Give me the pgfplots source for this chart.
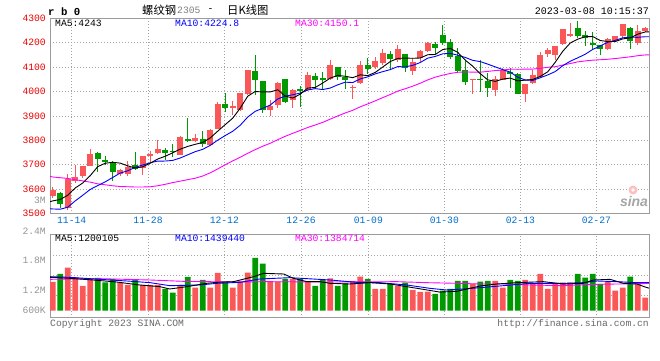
\documentclass[border=0pt]{standalone}
\usepackage{pgfplots}
\pgfplotsset{compat=1.18}
\usepackage{pgfplotstable}
\usepackage{fontspec}
\newfontfamily\mono{Liberation Mono}
\newfontfamily\cjk{Noto Sans CJK SC}
\newfontfamily\sans{Liberation Sans}
\definecolor{cred}{RGB}{250,88,88}
\definecolor{cgreen}{RGB}{0,153,0}
\definecolor{pricered}{RGB}{235,0,0}
\definecolor{datecol}{RGB}{0,110,205}
\definecolor{framegray}{RGB}{155,155,155}
\definecolor{gridgray}{RGB}{165,165,165}
\definecolor{lblgray}{RGB}{150,150,150}
\definecolor{txtgray}{RGB}{105,105,105}
\definecolor{mablue}{RGB}{0,0,255}
\definecolor{mamag}{RGB}{255,0,255}
\newcommand{\lbl}{\mono\fontsize{9.7}{10}\selectfont}

\pgfplotstableread{
x o h l c v
0 3572 3608 3565 3595 1.464
1 3583 3588 3525 3541 1.872
2 3525 3664 3515 3642 2.195
3 3633 3698 3626 3651 1.702
4 3653 3697 3644 3697 1.260
5 3697 3766 3694 3746 1.617
6 3750 3754 3670 3725 1.668
7 3720 3737 3698 3713 1.447
8 3713 3716 3633 3670 1.617
9 3664 3681 3653 3680 1.447
10 3663 3714 3656 3690 1.311
11 3698 3751 3677 3681 1.566
12 3687 3737 3658 3737 1.311
13 3735 3758 3710 3744 1.311
14 3748 3803 3746 3766 1.311
15 3762 3769 3719 3747 1.107
16 3758 3786 3731 3751 0.920
17 3741 3819 3741 3812 1.311
18 3805 3891 3792 3800 1.719
19 3798 3827 3792 3809 1.175
20 3805 3839 3773 3786 1.566
21 3782 3847 3778 3843 1.175
22 3847 3958 3845 3950 1.923
23 3950 3995 3915 3934 1.481
24 3935 3963 3904 3941 1.175
25 3925 3993 3920 3992 1.481
26 3988 4088 3984 4087 1.940
27 4083 4151 3985 4047 2.688
28 4043 4045 3911 3925 2.399
29 3925 3965 3901 3941 1.481
30 3945 4040 3934 4036 1.481
31 4051 4051 3952 3959 1.617
32 3965 4010 3931 4006 1.617
33 4010 4022 3938 4003 1.617
34 4006 4081 4002 4067 1.481
35 4063 4077 4013 4049 1.260
36 4056 4081 4009 4049 1.566
37 4053 4131 4049 4108 1.651
38 4100 4100 4049 4058 1.260
39 4060 4087 4009 4049 1.396
40 4015 4026 3970 4020 1.515
41 4033 4125 4030 4108 1.736
42 4108 4139 4071 4091 1.617
43 4101 4142 4094 4124 1.107
44 4117 4175 4108 4159 1.107
45 4152 4166 4087 4132 1.362
46 4131 4189 4121 4173 1.260
47 4152 4152 4081 4098 1.430
48 4085 4139 4067 4119 1.056
49 4138 4171 4121 4165 0.954
50 4165 4203 4162 4199 0.971
51 4196 4203 4155 4178 0.852
52 4230 4274 4189 4199 1.022
53 4203 4216 4135 4142 1.107
54 4146 4180 4074 4085 1.515
55 4090 4131 4026 4040 1.515
56 4047 4053 3992 4053 1.362
57 4053 4131 3999 4047 1.481
58 4043 4074 3979 4015 1.515
59 4006 4063 3982 4053 1.515
60 4049 4097 4046 4087 1.175
61 4081 4098 4013 4074 1.566
62 4072 4074 3988 3990 1.515
63 3990 4030 3959 4030 1.566
64 4036 4090 4029 4067 1.362
65 4060 4162 4058 4148 1.872
66 4152 4180 4142 4170 1.107
67 4149 4186 4128 4185 1.396
68 4193 4258 4190 4255 1.430
69 4227 4281 4223 4236 1.430
70 4261 4291 4219 4227 1.872
71 4230 4246 4186 4220 1.685
72 4200 4243 4169 4189 1.872
73 4192 4192 4148 4173 1.362
74 4176 4219 4171 4216 1.481
75 4209 4228 4205 4226 1.022
76 4226 4277 4219 4275 1.175
77 4261 4264 4176 4209 1.736
78 4200 4273 4192 4250 1.430
79 4246 4266 4243 4261 0.665
}\pricedata

\pgfplotstableread{
x m5 m10 m30
-0.36 3549 3520 3653
0 3552 3519 3650
1 3558 3518 3647
2 3575 3526 3644
3 3605 3552 3639
4 3625.2 3575 3634
5 3655.4 3599 3629
6 3692.2 3615 3622
7 3706.4 3630 3618
8 3710.2 3648 3614
9 3706.8 3666 3611
10 3695.6 3675.5 3610
11 3686.8 3689.5 3609
12 3691.6 3699 3609
13 3706.4 3708.3 3610
14 3723.6 3715.2 3614
15 3735 3715.3 3620
16 3749 3717.9 3627
17 3764 3727.8 3633
18 3775.2 3740.8 3639
19 3783.8 3753.7 3645
20 3791.6 3763.3 3654
21 3810 3779.5 3667
22 3837.6 3800.8 3683
23 3864.4 3819.8 3700
24 3890.8 3837.3 3716
25 3932 3861.8 3731
26 3980.8 3895.4 3747
27 4000.2 3918.9 3762
28 3998.4 3931.4 3776
29 3998.4 3944.6 3788.1
30 4007.2 3969.6 3802.8
31 3981.6 3981.2 3816.7
32 3973.4 3986.8 3828.9
33 3989 3993.7 3840.6
34 4014.2 4006.3 3852.9
35 4016.8 4012 3863.0
36 4034.8 4008.2 3873.8
37 4055.2 4014.3 3887.0
38 4066.2 4027.6 3899.9
39 4062.6 4038.4 3912.2
40 4056.8 4036.8 3923.2
41 4068.6 4051.7 3937.5
42 4065.2 4060.2 3949.3
43 4078.4 4072.3 3961.9
44 4100.4 4081.5 3975.0
45 4122.8 4089.8 3987.9
46 4135.8 4102.2 4001.9
47 4137.2 4101.2 4011.5
48 4136.2 4107.3 4022.1
49 4137.4 4118.9 4034.0
50 4150.8 4136.8 4047.7
51 4151.8 4143.8 4058.9
52 4172 4154.6 4067.2
53 4176.6 4156.4 4074.1
54 4160.6 4149 4078.9
55 4128.8 4139.8 4080.5
56 4103.8 4127.8 4079.4
57 4073.4 4122.7 4079.4
58 4048 4112.3 4082.4
59 4041.6 4101.1 4086.1
60 4051 4089.9 4087.8
61 4055.2 4079.5 4091.7
62 4043.8 4058.6 4091.1
63 4046.8 4047.4 4092.0
64 4049.6 4045.6 4092.0
65 4061.8 4056.4 4095.3
66 4081 4068.1 4099.4
67 4120 4081.9 4101.9
68 4165 4105.9 4108.5
69 4198.8 4124.2 4114.7
70 4214.6 4138.2 4121.6
71 4224.6 4152.8 4125.4
72 4225.4 4172.7 4128.6
73 4209 4186.7 4130.3
74 4205 4201.9 4132.2
75 4204.8 4209.7 4135.3
76 4215.8 4220.2 4138.7
77 4219.8 4222.6 4142.4
78 4235.2 4222.1 4146.8
79 4244.2 4224.6 4150.0
79.5 4244.2 4224.6 4150.0
}\madata

\pgfplotsset{
  kbase/.style={
    scale only axis, width=599pt,
    xmin=-0.36, xmax=79.5,
    xtick={2.53,12.71,22.88,33.11,42.08,52.21,62.35,72.48},
    major tick length=0pt,
    axis line style={draw=framegray, line width=1pt},
    grid=major,
    grid style={draw=gridgray, line width=0.7pt, dash pattern=on 0.8pt off 2.2pt},
    tick label style={font=\lbl},
    clip=true,
  },
  upfilter/.style={restrict expr to domain={\thisrow{c}-\thisrow{o}}{0:5000}},
  downfilter/.style={restrict expr to domain={\thisrow{c}-\thisrow{o}}{-5000:-0.001}},
}

\begin{document}
\begin{tikzpicture}[x=1pt,y=1pt]
\useasboundingbox (0,0) rectangle (660,360);
\fill[white] (0,0) rectangle (660,360);

% ---------- price panel ----------
\begin{axis}[kbase,
  at={(50pt,146.4pt)}, anchor=south west, height=195.3pt,
  ymin=3500, ymax=4300,
  xticklabels={11-14,11-28,12-12,12-26,01-09,01-30,02-13,02-27},
  ytick={3500,3600,3700,3800,3900,4000,4100,4200,4300},
  yticklabels={3500,3600,3700,3800,3900,4000,4100,4200,4300},
  xticklabel style={text=datecol, inner sep=0pt, yshift=-3pt},
  yticklabel style={text=pricered, inner sep=0pt, xshift=-4pt},
]
% wicks
\addplot[draw=none, mark=none, upfilter, forget plot,
  error bars/.cd, y dir=both, y explicit, error mark=none,
  error bar style={draw=cred, line width=1pt, solid}]
  table[x=x, y expr={(\thisrow{h}+\thisrow{l})/2}, y error expr={(\thisrow{h}-\thisrow{l})/2}]{\pricedata};
\addplot[draw=none, mark=none, downfilter, forget plot,
  error bars/.cd, y dir=both, y explicit, error mark=none,
  error bar style={draw=cgreen, line width=1pt, solid}]
  table[x=x, y expr={(\thisrow{h}+\thisrow{l})/2}, y error expr={(\thisrow{h}-\thisrow{l})/2}]{\pricedata};
% bodies
\addplot[draw=none, mark=none, upfilter, forget plot,
  error bars/.cd, y dir=both, y explicit, error mark=none,
  error bar style={draw=cred, line width=5.6pt, solid}]
  table[x=x, y expr={(\thisrow{o}+\thisrow{c})/2}, y error expr={max(abs(\thisrow{c}-\thisrow{o})/2,2.2)}]{\pricedata};
\addplot[draw=none, mark=none, downfilter, forget plot,
  error bars/.cd, y dir=both, y explicit, error mark=none,
  error bar style={draw=cgreen, line width=5.6pt, solid}]
  table[x=x, y expr={(\thisrow{o}+\thisrow{c})/2}, y error expr={max(abs(\thisrow{c}-\thisrow{o})/2,2.2)}]{\pricedata};
% moving averages
\addplot[mamag, line width=0.9pt, mark=none] table[x=x, y=m30]{\madata};
\addplot[mablue, line width=0.9pt, mark=none] table[x=x, y=m10]{\madata};
\addplot[black, line width=0.9pt, mark=none] table[x=x, y=m5]{\madata};
\end{axis}

% ---------- volume panel ----------
\begin{axis}[kbase,
  at={(50pt,42.3pt)}, anchor=south west, height=83.4pt,
  ymin=-0.357, ymax=3.896,
  xticklabels={},
  ytick={0.801,1.821,2.841}, yticklabels={},
  extra y ticks={0,1.04,2.55},
  extra y tick labels={600K,1.2M,1.8M},
  extra y tick style={grid=none},
  yticklabel style={text=lblgray, inner sep=0pt, xshift=-4pt},
]
\addplot[ybar, bar width=5.8pt, bar shift=0pt, fill=cred, draw=none, upfilter, forget plot]
  table[x=x, y=v]{\pricedata};
\addplot[ybar, bar width=5.8pt, bar shift=0pt, fill=cgreen, draw=none, downfilter, forget plot]
  table[x=x, y=v]{\pricedata};
\addplot[mamag, line width=0.9pt, mark=none] coordinates {
(-0.36,1.600) (6.3,1.634) (13,1.566) (17.4,1.498) (24.1,1.464) (28.5,1.481) (37,1.464)
(45.9,1.481) (49.9,1.430) (53.9,1.396) (57,1.362) (60.1,1.362) (63.6,1.311) (68.1,1.277)
(72.5,1.345) (79,1.385) (79.5,1.385)};
\addplot[mablue, line width=0.9pt, mark=none] coordinates {
(-0.36,1.736) (2.3,1.702) (6.3,1.600) (9.9,1.515) (13,1.430) (15.6,1.277) (19.6,1.311)
(21.9,1.396) (25,1.447) (27.6,1.617) (31.6,1.685) (37,1.566) (40.5,1.447) (43.6,1.430)
(47.2,1.311) (50.3,1.141) (52.5,1.056) (54.7,1.107) (57,1.175) (60.1,1.277) (63.6,1.396)
(68.1,1.396) (70.7,1.430) (72.5,1.515) (75.2,1.481) (77.9,1.430) (79,1.439) (79.5,1.440)};
\addplot[black, line width=0.9pt, mark=none] coordinates {
(-0.36,1.702) (2.3,1.651) (5.4,1.566) (8.5,1.464) (11.6,1.311) (14.3,1.226) (15.6,1.107)
(17.9,1.226) (20.5,1.396) (21.9,1.447) (24.1,1.481) (26.8,1.736) (28.1,1.906) (30.8,1.872)
(32.1,1.651) (33.9,1.481) (35.6,1.481) (37,1.396) (39.6,1.362) (42.3,1.430) (45,1.362)
(47.2,1.226) (49.4,1.090) (51.6,0.950) (53.9,0.990) (55.6,1.141) (57,1.260) (59.2,1.362)
(61.9,1.430) (65.4,1.481) (68.1,1.362) (70.7,1.396) (72.1,1.566) (74.3,1.600) (76.1,1.396)
(77.9,1.362) (79,1.206) (79.5,1.150)};
\end{axis}

% ---------- texts ----------
\node[anchor=west, inner sep=0] at (48,348.7) {\mono\bfseries\fontsize{10.7}{11}\selectfont r b 0};
\node[anchor=west, inner sep=0] at (142,350) {\cjk\fontsize{11.3}{12}\selectfont 螺纹钢};
\node[anchor=west, inner sep=0, text=gray] at (177,350) {\lbl 2305};
\node[inner sep=0] at (210.5,350) {\lbl -};
\node[anchor=west, inner sep=0] at (227,350) {\cjk\fontsize{11.3}{12}\selectfont 日K线图};
\node[anchor=east, inner sep=0] at (649,348.3) {\mono\fontsize{10}{11}\selectfont 2023-03-08 10:15:37};

\node[anchor=west, inner sep=0] at (55,336.3) {\lbl MA5:4243};
\node[anchor=west, inner sep=0, text=mablue] at (175,336.3) {\lbl MA10:4224.8};
\node[anchor=west, inner sep=0, text=mamag] at (295,336.3) {\lbl MA30:4150.1};

\node[anchor=west, inner sep=0] at (55,121.7) {\lbl MA5:1200105};
\node[anchor=west, inner sep=0, text=mablue] at (175,121.7) {\lbl MA10:1439440};
\node[anchor=west, inner sep=0, text=mamag] at (295,121.7) {\lbl MA30:1384714};

\node[anchor=east, inner sep=0, text=lblgray] at (46,129) {\lbl 2.4M};
\node[anchor=east, inner sep=0, text=lblgray] at (46,160) {\lbl 3M};

\node[anchor=west, inner sep=0, text=txtgray] at (50,36.4) {\lbl Copyright 2023 SINA.COM};
\node[anchor=east, inner sep=0, text=txtgray] at (649,36.3) {\lbl http://finance.sina.com.cn};

% sina watermark
\fill[red!25] (633,170) circle (4.5);
\fill[white] (633,170) circle (1.8);
\node[inner sep=0, text=black!35] at (634,159) {\sans\bfseries\itshape\fontsize{14}{14}\selectfont sina};
\end{tikzpicture}
\end{document}
